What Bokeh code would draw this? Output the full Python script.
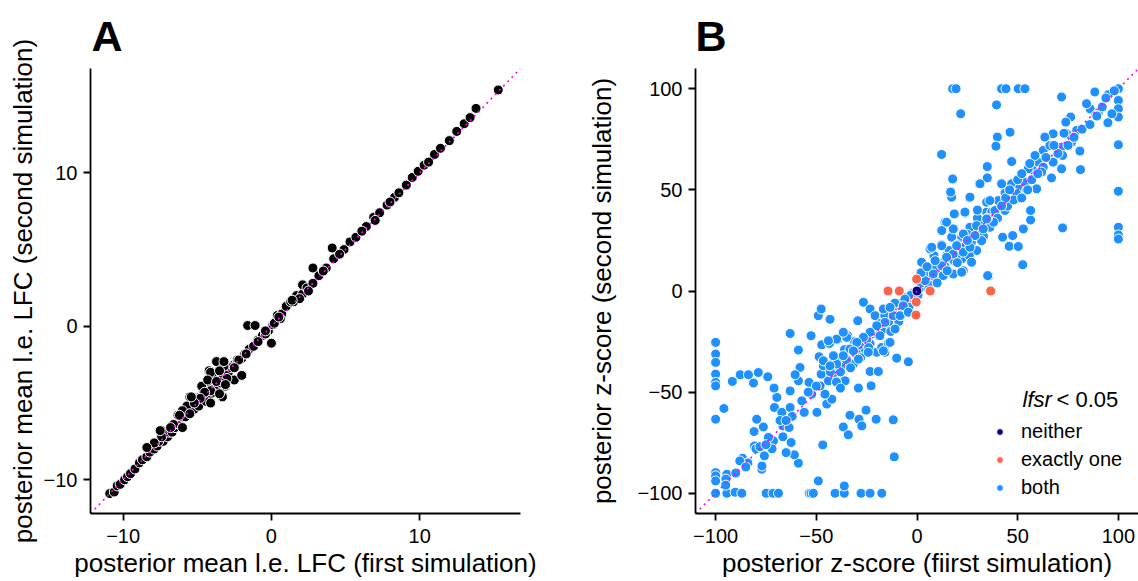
from bokeh.plotting import figure
from bokeh.layouts import row
from bokeh.models import (FixedTicker, CustomJSTickFormatter, Legend, LegendItem,
                          Label, Range1d)
from bokeh.embed import file_html
from bokeh.resources import INLINE

FONT = "Liberation Sans"

# ---------------- Panel A: posterior mean l.e. LFC ----------------
a_first = [
    -10.9, -10.6, -10.4, -10.2, -9.9, -9.7, -9.5, -9.2, -8.9, -8.7,
    -8.4, -8.2, -7.9, -7.7, -7.4, -7.3, -7.0, -6.9, -6.7, -6.5,
    -6.0, -6.3, -6.0, -6.3, -5.8, -5.5, -5.4, -5.2, -5.0, -5.5,
    -4.8, -4.9, -4.1, -4.2, -4.5, -4.0, -4.4, -3.3, -3.1, -3.7,
    -4.2, -3.3, -2.9, -3.5, -3.8, -2.5, -2.0, -2.5, -2.0, -4.6,
    -3.9, -3.6, -4.3, -3.0, -2.7, -1.8, -1.5, -1.2, -0.9, -1.6,
    -1.1, 0.0, -0.6, -0.2, 0.1, 0.4, 0.7, 1.0, 1.3, 1.7,
    2.1, 1.5, 2.1, 2.4, 2.8, 3.2, 2.8, 3.7, 4.2, 4.1,
    4.9, 5.3, 5.7, 6.4, 6.9, 7.3, 7.8, 8.3, 8.6, 9.1,
    9.5, 9.9, 10.3, 11.0, 11.4, 12.0, 12.5, 13.0, 13.4, 13.8,
    15.3, -5.7, -4.7, -3.4, -4.0, -3.2, -5.1, -6.6, -7.6, -2.3,
    0.6, 1.9, -0.4, 2.5, 3.5, 4.6, 6.1, 7.0, 8.0, 10.6,
]
a_second = [
    -10.9, -10.8, -10.4, -10.3, -10.0, -9.8, -9.6, -9.3, -8.9, -8.7,
    -8.5, -8.2, -8.0, -7.8, -6.8, -7.5, -7.2, -6.9, -6.9, -6.6,
    -6.6, -6.3, -5.9, -5.8, -5.9, -5.6, -5.6, -5.4, -5.1, -4.6,
    -4.6, -5.2, -5.0, -4.5, -4.0, -4.0, -4.9, -4.6, -3.9, -2.3,
    -2.9, -2.9, -3.0, -3.3, -3.5, -3.5, -3.2, -2.5, -2.1, -4.4,
    -4.3, -3.8, -3.6, -3.4, -2.7, -1.8, -1.5, -1.3, -0.9, 0.05,
    0.05, -1.1, -0.6, -0.3, 0.1, 0.7, 0.8, 1.3, 1.6, 2.0,
    2.1, 1.6, 2.7, 2.5, 2.8, 3.3, 3.8, 3.8, 4.4, 5.1,
    5.0, 5.5, 5.8, 6.5, 7.1, 7.4, 7.9, 8.4, 8.7, 9.2,
    9.7, 10.1, 10.5, 11.2, 11.6, 12.1, 12.7, 13.2, 13.6, 14.2,
    15.4, -5.2, -3.9, -3.7, -3.3, -2.6, -4.8, -6.4, -7.5, -2.2,
    0.5, 1.8, -0.5, 2.3, 3.6, 4.7, 6.2, 6.9, 8.1, 10.7,
]
# extra points in the scattered cluster around -8 .. 1
a_cluster_first = [
    -3.2, -4.1, -3.5, -4.3, -3.7, -3.1, -4.1, -3.5, -4.5, -4.8,
    -4.1, -5.2, -5.4, -6.0, -6.2, -5.5, -6.0, -6.8, -7.4, -7.5,
    -7.9, -8.4, -2.2, -2.5, -1.7, -0.9, -0.4, 0.2, 0.5, 1.4,
]
a_cluster_second = [
    -2.3, -3.0, -2.9, -3.5, -3.6, -3.8, -4.2, -4.4, -4.3, -4.7,
    -5.0, -5.0, -4.6, -5.5, -5.8, -5.7, -6.6, -6.6, -7.2, -6.8,
    -7.6, -7.9, -2.2, -2.7, -1.8, -1.0, -0.3, 0.2, 0.6, 1.7,
]
a_ticks = [-10, 0, 10]
a_lim = (-12.2, 16.8)

# ---------------- Panel B: posterior z-scores ----------------
# points clipped at the +/-100 edges
b_edge_x = [
    17.7, 19.4, 42.0, 44.2, 50.3, 53.6, 100, 100, 100, 100,
    100, 100, 100, 100, 100, -100, -100, -100, -100, -100,
    -100, -100, -100, -100, -100, -100, -94.4, -90.3, -87.0, -74.9,
    -71.5, -68.8, -53.5, -52.6, -51.5, -40.7, -36.1, -27.8, -23.3, -17.5,
]
b_edge_y = [
    100, 100, 100, 100, 100, 100, 100, 94.2, 90.1, 86.0,
    72.3, 49.3, 31.5, 27.7, 25.7, -25.4, -31.2, -35.3, -41.1, -45.2,
    -46.9, -63.4, -89.8, -91.4, -93.9, -100, -100, -99.5, -100, -100,
    -100, -100, -100, -100, -100, -100, -100, -100, -100, -100,
]
# scattered points away from the diagonal
b_out_hi_x = [
    -94.4, -94.9, -95.9, -36.1, -49.0, 71.8, 39.5, 21.7, 39.9, 39.2,
    46.2, 12.2, 34.9, 47.0, 81.2, 17.7, 16.7, 34.9, 30.9, 26.0,
    72.3, 52.5, 35.6, 47.5, 42.5, 45.8, 50.3, 52.8, 56.4, 56.4,
]
b_out_hi_y = [
    -90.6, -93.0, -58.1, -96.4, -93.9, 95.9, 92.0, 87.6, 76.1, 71.6,
    78.5, 67.5, 61.5, 64.0, 60.0, 55.3, 49.0, 55.9, 53.0, 46.0,
    31.2, 13.0, 7.4, 27.4, 26.6, 22.1, 22.0, 30.7, 35.1, 39.8,
]
b_out_lo_x = [
    -91.7, -87.8, -83.7, -81.2, -78.8, -74.1, -63.0, -49.0, -47.6, -43.2,
    -52.6, -58.9, -46.8, -36.6, -34.1, -33.3, -28.8, -27.4, -25.3, -20.3,
    -11.8, -11.3, -58.9, -60.9, -65.0, -77.1, -77.0, -75.8, -86.7, -10.1,
]
b_out_lo_y = [
    -44.7, -41.4, -41.4, -45.5, -40.3, -42.4, -21.0, -12.2, -8.9, -14.0,
    -22.1, -29.2, -76.1, -67.2, -71.1, -61.4, -63.4, -66.7, -58.9, -63.4,
    -63.7, -82.0, -85.1, -81.0, -79.9, -88.1, -86.5, -81.5, -82.7, -33.2,
]
# band along the diagonal, positive side
b_pos_x = [
    2.3, 6.5, 12.2, 13.9, 18.9, 23.8, 18.4, 17.2, 22.2, 20.0,
    12.2, 8.4, 12.2, 18.0, 18.4, 23.0, 22.2, 29.6, 26.0, 26.3,
    31.3, 32.1, 36.2, 34.6, 37.1, 34.6, 40.4, 43.7, 38.7, 42.0,
    47.0, 43.7, 51.1, 49.5, 54.4, 53.6, 59.4, 57.7, 55.2, 60.2,
    62.7, 61.9, 66.8, 67.6, 71.8, 62.7, 58.6, 66.0, 67.6, 63.5,
    71.8, 74.3, 76.8, 79.3, 80.9, 72.3, 28.0, 30.0, 40.0, 45.0,
    48.0, 50.0, 52.0, 57.0, 64.0, 70.0, 75.0, 78.0, 82.0, 86.0,
    90.0, 92.0, 95.0, 98.0, 60.0, 55.0, 44.0, 38.0, 33.0, 24.0,
    15.0, 10.0, 7.0, 5.0, 3.0, 4.0, 9.0, 11.0, 14.0, 16.0,
    20.0, 25.0, 27.0, 35.0, 42.0, 46.0, 52.0, 56.0, 68.0, 73.0,
    84.2, 88.3, 88.8, 85.9, 76.3, 73.9, 93.8, 94.8, 96.8, 89.3,
]
b_pos_y = [
    14.2, 21.3, 29.9, 34.0, 38.1, 38.5, 30.7, 26.6, 26.6, 22.9,
    22.9, 17.5, 13.7, 8.4, 15.0, 10.0, 15.8, 20.0, 17.5, 31.5,
    29.9, 32.3, 31.5, 39.0, 39.0, 43.9, 44.7, 39.8, 39.8, 53.0,
    53.0, 48.4, 51.3, 48.0, 49.7, 53.8, 50.5, 59.6, 60.4, 63.7,
    61.2, 58.8, 55.9, 63.7, 60.4, 69.5, 67.0, 71.9, 77.7, 76.1,
    71.1, 77.7, 73.6, 79.4, 69.2, 67.0, 26.0, 36.0, 36.0, 42.0,
    45.0, 55.0, 46.0, 55.0, 66.0, 68.0, 72.0, 76.0, 80.0, 90.0,
    88.0, 91.0, 97.0, 99.0, 58.0, 50.0, 46.0, 34.0, 27.0, 22.0,
    18.0, 11.0, 6.0, 8.0, 2.0, 5.0, 6.0, 13.0, 12.0, 20.0,
    18.0, 28.0, 24.0, 36.0, 42.0, 50.0, 58.0, 63.0, 72.0, 78.0,
    92.6, 98.4, 86.8, 82.3, 86.0, 83.5, 95.4, 83.2, 87.6, 86.5,
]
# band along the diagonal, negative side
b_neg_x = [
    -70.8, -79.6, -76.3, -80.9, -80.7, -71.3, -66.6, -62.5, -66.6, -73.8,
    -70.8, -69.6, -63.0, -71.0, -58.9, -58.1, -60.5, -53.6, -67.1, -63.0,
    -57.2, -63.5, -49.7, -44.8, -42.3, -45.7, -48.1, -52.3, -47.6, -44.0,
    -40.7, -35.7, -29.1, -22.8, -23.3, -19.2, -48.6, -46.5, -41.8, -37.7,
    -31.6, -37.4, -32.4, -28.3, -25.8, -23.3, -20.0, -17.5, -15.9, -14.2,
    -42.3, -39.1, -34.4, -47.3, -43.5, -29.4, -26.6, -23.3, -20.8, -16.2,
    -17.5, -22.5, -20.0, -12.6, -15.9, -10.9, -12.3, -38.0, -35.0, -33.0,
    -30.0, -27.0, -25.0, -22.0, -18.0, -14.0, -12.0, -10.0, -8.0, -6.0,
    -5.0, -3.0, -2.0, -7.0, -9.0, -4.0, -13.0, -16.0, -19.0, -24.0,
    -28.0, -31.0, -36.0, -40.0, -43.0, -50.0, -54.0, -56.0, -62.0, -68.0,
    -72.0, -84.0, -90.0, -95.0, -1.0, 1.0, 2.0, -3.0, 0.5, 6.0,
    8.0, -6.0, -11.0, -8.0, -88.0, -85.0, -80.0, -78.0, -75.0, -65.0,
]
b_neg_y = [
    -48.0, -63.4, -67.2, -69.5, -76.6, -74.1, -72.1, -74.9, -66.7, -72.4,
    -57.6, -52.6, -49.4, -48.0, -44.4, -37.8, -41.4, -45.2, -60.0, -57.6,
    -54.3, -67.5, -60.0, -55.9, -53.5, -51.0, -46.9, -51.0, -41.1, -44.4,
    -40.3, -44.4, -48.0, -46.9, -39.8, -39.8, -32.5, -37.0, -35.8, -37.0,
    -36.1, -32.8, -28.7, -27.1, -30.3, -26.2, -30.3, -27.9, -30.3, -25.9,
    -24.6, -23.8, -22.1, -26.6, -25.9, -14.7, -5.6, -8.9, -12.2, -13.0,
    -19.6, -21.3, -17.2, -18.0, -9.8, -8.9, -13.9, -40.0, -34.0, -38.0,
    -31.0, -25.0, -24.0, -20.0, -16.0, -15.0, -10.0, -12.0, -6.0, -8.0,
    -3.0, -5.0, -1.0, -11.0, -15.0, -8.0, -20.0, -12.0, -22.0, -28.0,
    -33.0, -25.0, -29.0, -45.0, -40.0, -47.0, -50.0, -60.0, -62.0, -64.0,
    -78.0, -85.0, -90.0, -96.0, -3.0, 1.0, 4.0, -2.0, -2.0, 3.0,
    11.0, -4.0, -6.0, -12.0, -84.0, -87.0, -78.0, -77.0, -76.0, -64.0,
]
# dense core of the band near the origin
b_core_pos_x = [
    4.0, 8.1, 12.3, 13.0, 6.5, 12.3, 18.0, 23.0, 27.1, 22.2,
    14.7, 19.7, 26.3, 32.1, 28.8, 23.0, 18.0, 12.3, 7.3, 14.7,
    23.8, 18.5, 29.6, 32.9, 34.6, 17.2, 26.3, 17.7, 31.3, 35.1,
    36.2, 16.7, 2.0, 5.0, 9.0, 10.0, 15.0, 20.0, 25.0, 30.0,
]
b_core_pos_y = [
    5.1, 8.4, 12.5, 7.6, 20.8, 22.4, 18.3, 19.2, 14.2, 9.3,
    16.7, 22.4, 21.6, 24.9, 27.4, 28.2, 30.7, 29.9, 21.6, 34.0,
    39.0, 38.1, 32.3, 30.7, 35.6, 46.4, 46.4, 55.4, 53.0, 7.6,
    44.7, 48.9, 9.0, 12.0, 15.0, 4.0, 10.0, 14.0, 25.0, 40.0,
]
b_core_neg_x = [
    -6.8, -11.8, -15.9, -20.0, -23.3, -26.6, -29.9, -33.3, -36.6, -39.9,
    -16.7, -13.4, -18.4, -13.4, -10.9, -8.4, -4.3, -34.9, -39.9, -44.0,
    -36.6, -24.2, -16.7, -31.6, -29.1, -41.5, -46.5, -43.2, -4.3, -38.0,
]
b_core_neg_y = [
    -7.3, -12.2, -15.5, -17.2, -20.4, -22.9, -25.4, -28.7, -32.0, -36.1,
    -8.9, -8.1, -22.1, -25.4, -18.8, -12.2, -10.5, -22.9, -23.8, -24.6,
    -20.4, -30.3, -29.6, -29.6, -33.7, -32.0, -34.5, -37.0, -35.0, -48.0,
]
b_one_x = [-14.4, -8.8, 6.5, 36.6, -0.5, -0.2, -0.4]
b_one_y = [0.0, 0.0, 0.0, 0.0, -11.9, 5.9, -5.4]
b_neither_x = [0.0]
b_neither_y = [0.0]
b_ticks = [-100, -50, 0, 50, 100]
b_lim = (-110, 110)

a_x = a_first + a_cluster_first
a_y = a_second + a_cluster_second
b_both_x = b_edge_x + b_out_hi_x + b_out_lo_x + b_pos_x + b_neg_x + b_core_pos_x + b_core_neg_x
b_both_y = b_edge_y + b_out_hi_y + b_out_lo_y + b_pos_y + b_neg_y + b_core_pos_y + b_core_neg_y

COL_NEITHER = "#000080"
COL_ONE = "#FF6347"
COL_BOTH = "#1E90FF"
MAGENTA = "#FF00FF"

fmt_code = "return (tick < 0 ? '\\u2212' : '') + Math.abs(tick).toString();"


def style(p, ticks, ylabel_standoff, title_offset):
    for ax in (p.xaxis[0], p.yaxis[0]):
        ax.ticker = FixedTicker(ticks=ticks)
        ax.formatter = CustomJSTickFormatter(code=fmt_code)
        ax.axis_line_color = "black"
        ax.axis_line_width = 1.8
        ax.major_tick_line_color = "black"
        ax.major_tick_line_width = 1.8
        ax.major_tick_out = 7
        ax.major_tick_in = 0
        ax.minor_tick_out = 0
        ax.minor_tick_in = 0
        ax.major_label_text_font = FONT
        ax.major_label_text_font_size = "20px"
        ax.major_label_text_color = "black"
        ax.axis_label_text_font = FONT
        ax.axis_label_text_font_size = "26px"
        ax.axis_label_text_font_style = "normal"
        ax.axis_label_text_color = "black"
    p.xaxis[0].major_label_standoff = 8
    p.xaxis[0].axis_label_standoff = 2
    p.yaxis[0].major_label_standoff = 6
    p.yaxis[0].axis_label_standoff = ylabel_standoff
    p.xgrid.visible = False
    p.ygrid.visible = False
    p.outline_line_color = None
    p.background_fill_color = "white"
    p.border_fill_color = "white"
    p.title.text_font = FONT
    p.title.text_font_size = "43px"
    p.title.text_font_style = "bold"
    p.title.text_color = "black"
    p.title.align = "left"
    p.title.vertical_align = "top"
    p.title.standoff = 14
    p.title.offset = title_offset


# ---- Panel A figure ----
pA = figure(width=560, height=581, output_backend="svg", toolbar_location=None,
            title="A", x_range=Range1d(*a_lim), y_range=Range1d(*a_lim),
            min_border_left=90, min_border_right=40, min_border_top=67, min_border_bottom=68,
            x_axis_label="posterior mean l.e. LFC (first simulation)",
            y_axis_label="posterior mean l.e. LFC (second simulation)")
style(pA, a_ticks, 3, 1)
pA.scatter(a_x, a_y, size=10, fill_color="black", line_color="white", line_width=1)
pA.line([a_lim[0], a_lim[1]], [a_lim[0], a_lim[1]], line_color=MAGENTA,
        line_width=1.6, line_dash="2 4")

# ---- Panel B figure ----
pB = figure(width=578, height=581, output_backend="svg", toolbar_location=None,
            title="B", x_range=Range1d(*b_lim), y_range=Range1d(*b_lim),
            min_border_left=135, min_border_right=0, min_border_top=68, min_border_bottom=67,
            x_axis_label="posterior z-score (fiirst simulation)",
            y_axis_label="posterior z-score (second simulation)")
style(pB, b_ticks, 17, 0)
r_both = pB.scatter(b_both_x, b_both_y, size=10, fill_color=COL_BOTH,
                    line_color="white", line_width=1)
r_one = pB.scatter(b_one_x, b_one_y, size=10, fill_color=COL_ONE,
                   line_color="white", line_width=1)
r_neither = pB.scatter(b_neither_x, b_neither_y, size=10, fill_color=COL_NEITHER,
                       line_color="white", line_width=1)
pB.line([b_lim[0], b_lim[1]], [b_lim[0], b_lim[1]], line_color=MAGENTA,
        line_width=1.6, line_dash="2 4")

legend = Legend(items=[LegendItem(label="neither", renderers=[r_neither]),
                       LegendItem(label="exactly one", renderers=[r_one]),
                       LegendItem(label="both", renderers=[r_both])],
                location=(296, 14), glyph_width=17, glyph_height=17,
                label_standoff=13, spacing=5, padding=0, margin=0,
                background_fill_alpha=0, border_line_color=None,
                label_text_font=FONT, label_text_font_size="20px",
                label_text_color="black")
pB.add_layout(legend)

pB.add_layout(Label(x=327, y=114, x_units="screen", y_units="screen", text="lfsr",
                    text_font=FONT, text_font_size="22px", text_font_style="italic",
                    text_baseline="middle", text_color="black"))
pB.add_layout(Label(x=361, y=114, x_units="screen", y_units="screen", text="< 0.05",
                    text_font=FONT, text_font_size="22px",
                    text_baseline="middle", text_color="black"))

layout = row(pA, pB)
with open("out.html", "w", encoding="utf-8") as f:
    f.write(file_html(layout, INLINE))
